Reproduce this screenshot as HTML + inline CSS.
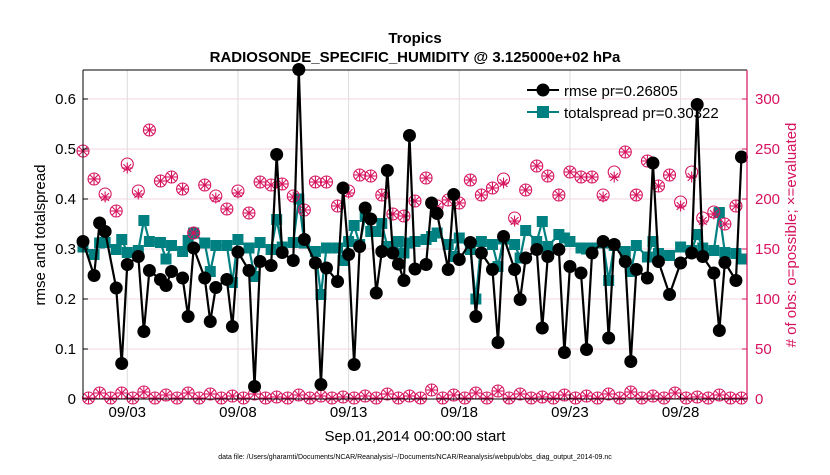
<!DOCTYPE html>
<html><head><meta charset="utf-8"><style>
body{margin:0;background:#fff;width:830px;height:470px;overflow:hidden}
svg{font-family:"Liberation Sans",sans-serif}
</style></head><body>
<svg id="chart" width="830" height="470" viewBox="0 0 830 470" xmlns="http://www.w3.org/2000/svg">
<rect x="0" y="0" width="830" height="470" fill="#fff"/>
<text x="415" y="43" text-anchor="middle" font-size="15" font-weight="bold">Tropics</text>
<text x="415" y="62" text-anchor="middle" font-size="15" font-weight="bold">RADIOSONDE_SPECIFIC_HUMIDITY @ 3.125000e+02 hPa</text>
<g id="grid"></g>
<g>
<line x1="527" y1="90" x2="559" y2="90" stroke="#000" stroke-width="2"/>
<circle cx="543" cy="90" r="6.5" fill="#000"/>
<text x="564" y="96" font-size="15">rmse pr=0.26805</text>
<line x1="527" y1="112" x2="559" y2="112" stroke="#008080" stroke-width="2"/>
<rect x="537" y="106" width="12" height="12" fill="#008080"/>
<text x="564" y="118" font-size="15">totalspread pr=0.30322</text>
</g>
<g id="marks"></g>
<g id="axes"></g>
<text x="415" y="441" text-anchor="middle" font-size="15">Sep.01,2014 00:00:00 start</text>
<text x="415" y="459" text-anchor="middle" font-size="7">data file: /Users/gharamti/Documents/NCAR/Reanalysis/~/Documents/NCAR/Reanalysis/webpub/obs_diag_output_2014-09.nc</text>
<text transform="translate(45,235) rotate(-90)" text-anchor="middle" font-size="15">rmse and totalspread</text>
<text transform="translate(796,235) rotate(-90)" text-anchor="middle" font-size="15" fill="#d6135e"># of obs: o=possible; ×=evaluated</text>
</svg>
<script>
const times=[0,2,3,4,6,7,8,10,11,12,14,15,16,18,19,20,22,23,24,26,27,28,30,31,32,34,35,36,38,39,40,42,43,44,46,47,48,49,50,51,52,53,54,55,56,57,58,59,60,62,63,64,66,67,68,70,71,72,74,75,76,78,79,80,82,83,84,86,87,88,90,91,92,94,95,96,98,99,100,102,103,104,106,108,110,111,112,114,115,116,118,119];
const rmse=[0.315,0.247,0.352,0.335,0.222,0.071,0.269,0.285,0.135,0.257,0.239,0.227,0.255,0.242,0.165,0.302,0.242,0.155,0.223,0.239,0.145,0.294,0.257,0.025,0.275,0.267,0.489,0.293,0.277,0.659,0.319,0.272,0.029,0.262,0.235,0.422,0.289,0.069,0.305,0.382,0.36,0.212,0.295,0.457,0.292,0.27,0.237,0.527,0.26,0.269,0.392,0.371,0.259,0.409,0.279,0.313,0.165,0.292,0.259,0.113,0.325,0.259,0.199,0.282,0.299,0.142,0.285,0.299,0.093,0.265,0.252,0.099,0.292,0.315,0.122,0.309,0.275,0.075,0.259,0.242,0.472,0.275,0.209,0.272,0.292,0.589,0.285,0.252,0.137,0.273,0.237,0.484];
const spread=[0.304,0.289,0.312,0.313,0.299,0.319,0.293,0.297,0.357,0.315,0.313,0.28,0.307,0.295,0.317,0.332,0.312,0.255,0.307,0.307,0.233,0.319,0.302,0.245,0.313,0.299,0.359,0.304,0.313,0.4,0.312,0.295,0.209,0.302,0.302,0.277,0.315,0.347,0.309,0.365,0.335,0.335,0.351,0.305,0.295,0.315,0.292,0.312,0.315,0.319,0.325,0.332,0.309,0.285,0.322,0.299,0.2,0.315,0.309,0.265,0.32,0.309,0.282,0.337,0.315,0.355,0.305,0.329,0.322,0.315,0.302,0.3,0.302,0.312,0.237,0.307,0.295,0.255,0.307,0.284,0.315,0.291,0.287,0.304,0.297,0.329,0.302,0.297,0.373,0.293,0.291,0.28];
const possibleMain=[248,220,205,188,235,208,269,218,222,210,166,214,203,190,208,186,217,214,215,203,189,217,217,193,208,224,223,204,185,183,198,221,193,199,196,219,204,211,220,181,209,233,223,204,227,222,222,204,227,247,204,238,213,224,197,227,181,187,175,193];
const evaluatedMain=[248,220,202,188,231,205,269,218,222,210,166,214,201,190,206,186,217,214,215,202,189,217,217,193,206,224,223,204,185,183,198,221,192,199,196,219,204,211,216,178,209,233,223,204,227,222,222,202,222,247,204,238,213,224,193,222,178,185,175,193];
const possibleOff=[1,6,1,6,1,7,1,4,1,6,1,5,1,3,1,5,1,2,1,4,1,3,1,2,1,3,1,5,1,3,1,9,1,4,1,6,1,8,1,5,1,2,1,4,1,3,1,5,1,7,1,3,1,6,1,2,1,4,1,1];
const leftTicks=["0","0.1","0.2","0.3","0.4","0.5","0.6"];
const rightTicks=["0","50","100","150","200","250","300"];
const dateTicks=["09/03","09/08","09/13","09/18","09/23","09/28"];
const dateTickDays=[2,7,12,17,22,27];

const L=83,R=747,T=70,B=399,NS="http://www.w3.org/2000/svg",PINK="#d6135e",TEAL="#008080";
const xs=i=>L+i*(R-L)/120;
const yl=v=>B-v*500;
const yr=v=>B-v*1.0;
function mk(tag,attrs,parent){const e=document.createElementNS(NS,tag);for(const k in attrs)e.setAttribute(k,attrs[k]);parent.appendChild(e);return e;}
const grid=document.getElementById('grid'),marks=document.getElementById('marks'),axes=document.getElementById('axes');

leftTicks.forEach((t,k)=>{const v=k*0.1,y=yl(v);
 if(k>0){const g=mk('line',{x1:L,x2:R,y1:y,y2:y,stroke:'#f0d6e0','stroke-width':1},grid);
 
 }
 const tk=mk('text',{x:L-7,y:y+5,'text-anchor':'end','font-size':15},axes);tk.textContent=t;
 
 
 mk('line',{x1:L,x2:L+5,y1:y,y2:y,stroke:'#000'},axes);
});
rightTicks.forEach((t,k)=>{const y=yr(Number(t));
 const tk=mk('text',{x:R+8,y:y+5,'font-size':15,fill:PINK},axes);tk.textContent=t;
 
 
 mk('line',{x1:R-5,x2:R,y1:y,y2:y,stroke:PINK},axes);
});
dateTicks.forEach((t,k)=>{const x=xs(dateTickDays[k]*4);
 const g=mk('line',{x1:x,x2:x,y1:T,y2:B,stroke:'#dcdcdc','stroke-width':1},grid);
 
 
 const tk=mk('text',{x:x,y:B+18,'text-anchor':'middle','font-size':15},axes);tk.textContent=t;
 
 
 mk('line',{x1:x,x2:x,y1:B,y2:B-5,stroke:'#000'},axes);
});
mk('line',{x1:L,x2:R,y1:T,y2:T,stroke:'#000'},axes);
mk('line',{x1:L,x2:R,y1:B,y2:B,stroke:'#000'},axes);
mk('line',{x1:L,x2:L,y1:T,y2:B,stroke:'#000'},axes);
mk('line',{x1:R,x2:R,y1:T,y2:B,stroke:PINK,'stroke-width':1.2},axes);

const sp=mk('polyline',{points:times.map((t,k)=>xs(t)+','+yl(spread[k])).join(' '),fill:'none',stroke:TEAL,'stroke-width':2.2},marks);


times.forEach((t,k)=>{const r=mk('rect',{x:xs(t)-5.5,y:yl(spread[k])-5.5,width:11,height:11,fill:TEAL},marks);
 
 });

function obsMark(x,yP,yE){
 const c=mk('circle',{cx:x,cy:yP,r:6,fill:'none',stroke:PINK,'stroke-width':1.1},marks);
 
 
 const g=mk('g',{stroke:PINK,'stroke-width':1.1},marks);
 
 
 for(let a=0;a<4;a++){const an=a*Math.PI/4,dx=Math.cos(an)*5.5,dy=Math.sin(an)*5.5;
  mk('line',{x1:x-dx,y1:yE-dy,x2:x+dx,y2:yE+dy},g);}
}
possibleMain.forEach((v,k)=>obsMark(xs(k*2),yr(v),yr(evaluatedMain[k])));
possibleOff.forEach((v,k)=>obsMark(xs(k*2+1),yr(v),yr(v)));

const rl=mk('polyline',{points:times.map((t,k)=>xs(t)+','+yl(rmse[k])).join(' '),fill:'none',stroke:'#000','stroke-width':2.2},marks);


times.forEach((t,k)=>{const c=mk('circle',{cx:xs(t),cy:yl(rmse[k]),r:6.5,fill:'#000'},marks);
 
 });
</script>
</body></html>
